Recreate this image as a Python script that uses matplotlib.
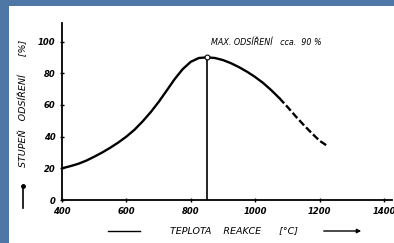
import matplotlib
matplotlib.use("Agg")
import matplotlib.pyplot as plt
from matplotlib.patches import Rectangle

# data
temp_solid = [400, 425, 450, 475, 500, 525, 550, 575, 600, 625, 650, 675, 700, 725, 750,
              775, 800, 825, 850, 875, 900, 925, 950, 975, 1000, 1025, 1050, 1075]
val_solid = [20, 21.3, 22.8, 24.8, 27.3, 30, 33, 36.3, 40, 44.3, 49.5, 55.3, 61.8, 69, 76.3,
             82.6, 87.2, 89.6, 90, 89.6, 88.3, 86.3, 83.8, 80.9, 77.6, 73.8, 69.3, 64.3]
temp_dash = [1075, 1100, 1125, 1150, 1175, 1200, 1225]
val_dash = [64.3, 58.8, 53.0, 47.5, 42.3, 37.4, 34]
peak_temp = 850
peak_val = 90
x_ticks = [400, 600, 800, 1000, 1200, 1400]
y_ticks = [0, 20, 40, 60, 80, 100]

W, H = 394, 243
fig = plt.figure(figsize=(W / 100, H / 100), dpi=100)
fig.patch.set_facecolor("#4f77a6")
fig.add_artist(Rectangle((9 / W, 0), 1 - 9 / W, 1 - 6 / H, transform=fig.transFigure,
                         facecolor="white", edgecolor="none", zorder=0))

ax = fig.add_axes([62 / W, 43 / H, 330 / W, 177.5 / H])
ax.set_facecolor("none")
ax.set_xlim(400, 1425)
ax.set_ylim(0, 112)
for s in ["top", "right"]:
    ax.spines[s].set_visible(False)
for s in ["left", "bottom"]:
    ax.spines[s].set_linewidth(1.3)

ax.plot(temp_solid, val_solid, color="black", lw=1.7, solid_capstyle="round",
        solid_joinstyle="round")
ax.plot(temp_dash, val_dash, color="black", lw=1.7, dashes=(3, 1.2))
ax.plot([peak_temp, peak_temp], [0, peak_val], color="black", lw=1.2)
ax.plot([peak_temp], [peak_val], marker="o", ms=3.5, mfc="white", mec="black", mew=0.8)

ax.set_xticks(x_ticks)
ax.set_yticks(y_ticks)
ax.set_xticklabels([str(t) for t in x_ticks], fontsize=6, fontstyle="italic", fontweight="bold")
ax.set_yticklabels([str(t) for t in y_ticks], fontsize=6, fontstyle="italic", fontweight="bold")
ax.tick_params(axis="both", direction="inout", length=3.5, width=1, pad=3)

ax.text(862, 96.5, "MAX. ODSÍŘENÍ   cca.  90 %", fontsize=5.8, fontstyle="italic",
        ha="left", va="bottom")

# y label
fig.text(23 / W, 1 - 103 / H, "STUPEŇ   ODSÍŘENÍ      [%]", rotation=90, fontsize=6.8,
         fontstyle="italic", ha="center", va="center")
fig.add_artist(plt.Line2D([23 / W, 23 / W], [1 - 208 / H, 1 - 186 / H], color="black",
                          lw=1.2, transform=fig.transFigure))
fig.add_artist(plt.Line2D([23 / W], [1 - 186 / H], marker="o", ms=2.5, color="black",
                          transform=fig.transFigure))

# x label
fig.text(234 / W, 1 - 231 / H, "TEPLOTA    REAKCE      [°C]", fontsize=6.8,
         fontstyle="italic", ha="center", va="center")
fig.add_artist(plt.Line2D([108 / W, 140 / W], [1 - 231 / H, 1 - 231 / H], color="black",
                          lw=1.0, transform=fig.transFigure))
ax.annotate("", xy=(364 / W, 1 - 231 / H), xytext=(321 / W, 1 - 231 / H),
            xycoords="figure fraction",
            arrowprops=dict(arrowstyle="-|>", color="black", lw=1.0, mutation_scale=6))

fig.savefig("out.png", dpi=100)
